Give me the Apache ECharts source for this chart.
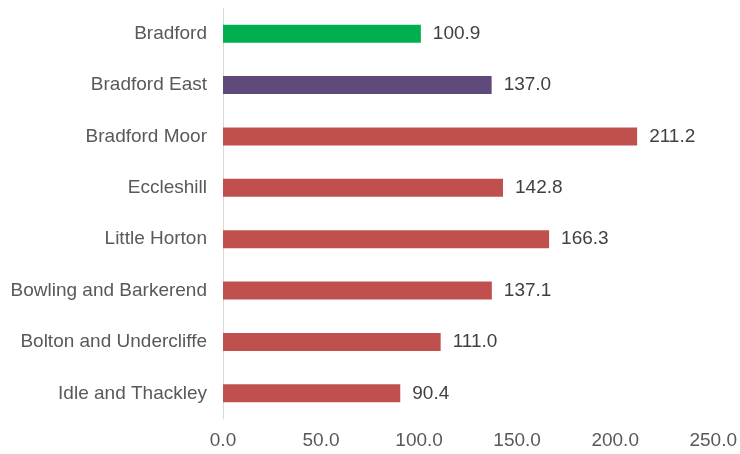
<!DOCTYPE html>
<html>
<head>
<meta charset="utf-8">
<script src="https://cdn.jsdelivr.net/npm/echarts@6/dist/echarts.min.js"></script>
<style>
  html, body { margin: 0; padding: 0; background: #fff; }
  #myChart { width: 740px; height: 454px; }
</style>
</head>
<body>
<div id="myChart"></div>
<script>
    // wards, top to bottom as in the picture
    var categories = ['Bradford', 'Bradford East', 'Bradford Moor', 'Eccleshill',
        'Little Horton', 'Bowling and Barkerend', 'Bolton and Undercliffe', 'Idle and Thackley'];
    var values = [100.9, 137.0, 211.2, 142.8, 166.3, 137.1, 111.0, 90.4];
    var barColors = ['#00B050', '#604A7B', '#C0504D', '#C0504D',
        '#C0504D', '#C0504D', '#C0504D', '#C0504D'];

    var myChart = echarts.init(document.getElementById('myChart'));

    var seriesData = values.map(function(v, i) {
        return { value: v, itemStyle: { color: barColors[i] } };
    });

    var option = {
        animation: false,
        textStyle: { fontFamily: 'Liberation Sans, Arial, sans-serif' },
        grid: { left: 223, right: 25, top: 8, bottom: 35, containLabel: false },
        xAxis: {
            type: 'value',
            min: 0,
            max: 250,
            interval: 50,
            axisLine: { show: false },
            axisTick: { show: false },
            splitLine: { show: false },
            axisLabel: {
                color: '#595959',
                fontSize: 19,
                margin: 12,
                formatter: function(v) { return v.toFixed(1); }
            }
        },
        yAxis: {
            type: 'category',
            inverse: true,
            data: categories,
            axisLine: { show: true, lineStyle: { color: '#D9D9D9', width: 1 } },
            axisTick: { show: false },
            axisLabel: { color: '#595959', fontSize: 19, margin: 16 }
        },
        series: [{
            type: 'bar',
            data: seriesData,
            barWidth: 18,
            label: {
                show: true,
                position: 'right',
                distance: 12,
                color: '#404040',
                fontSize: 19,
                formatter: function(p) { return p.value.toFixed(1); }
            }
        }]
    };
    myChart.setOption(option);
</script>
</body>
</html>
